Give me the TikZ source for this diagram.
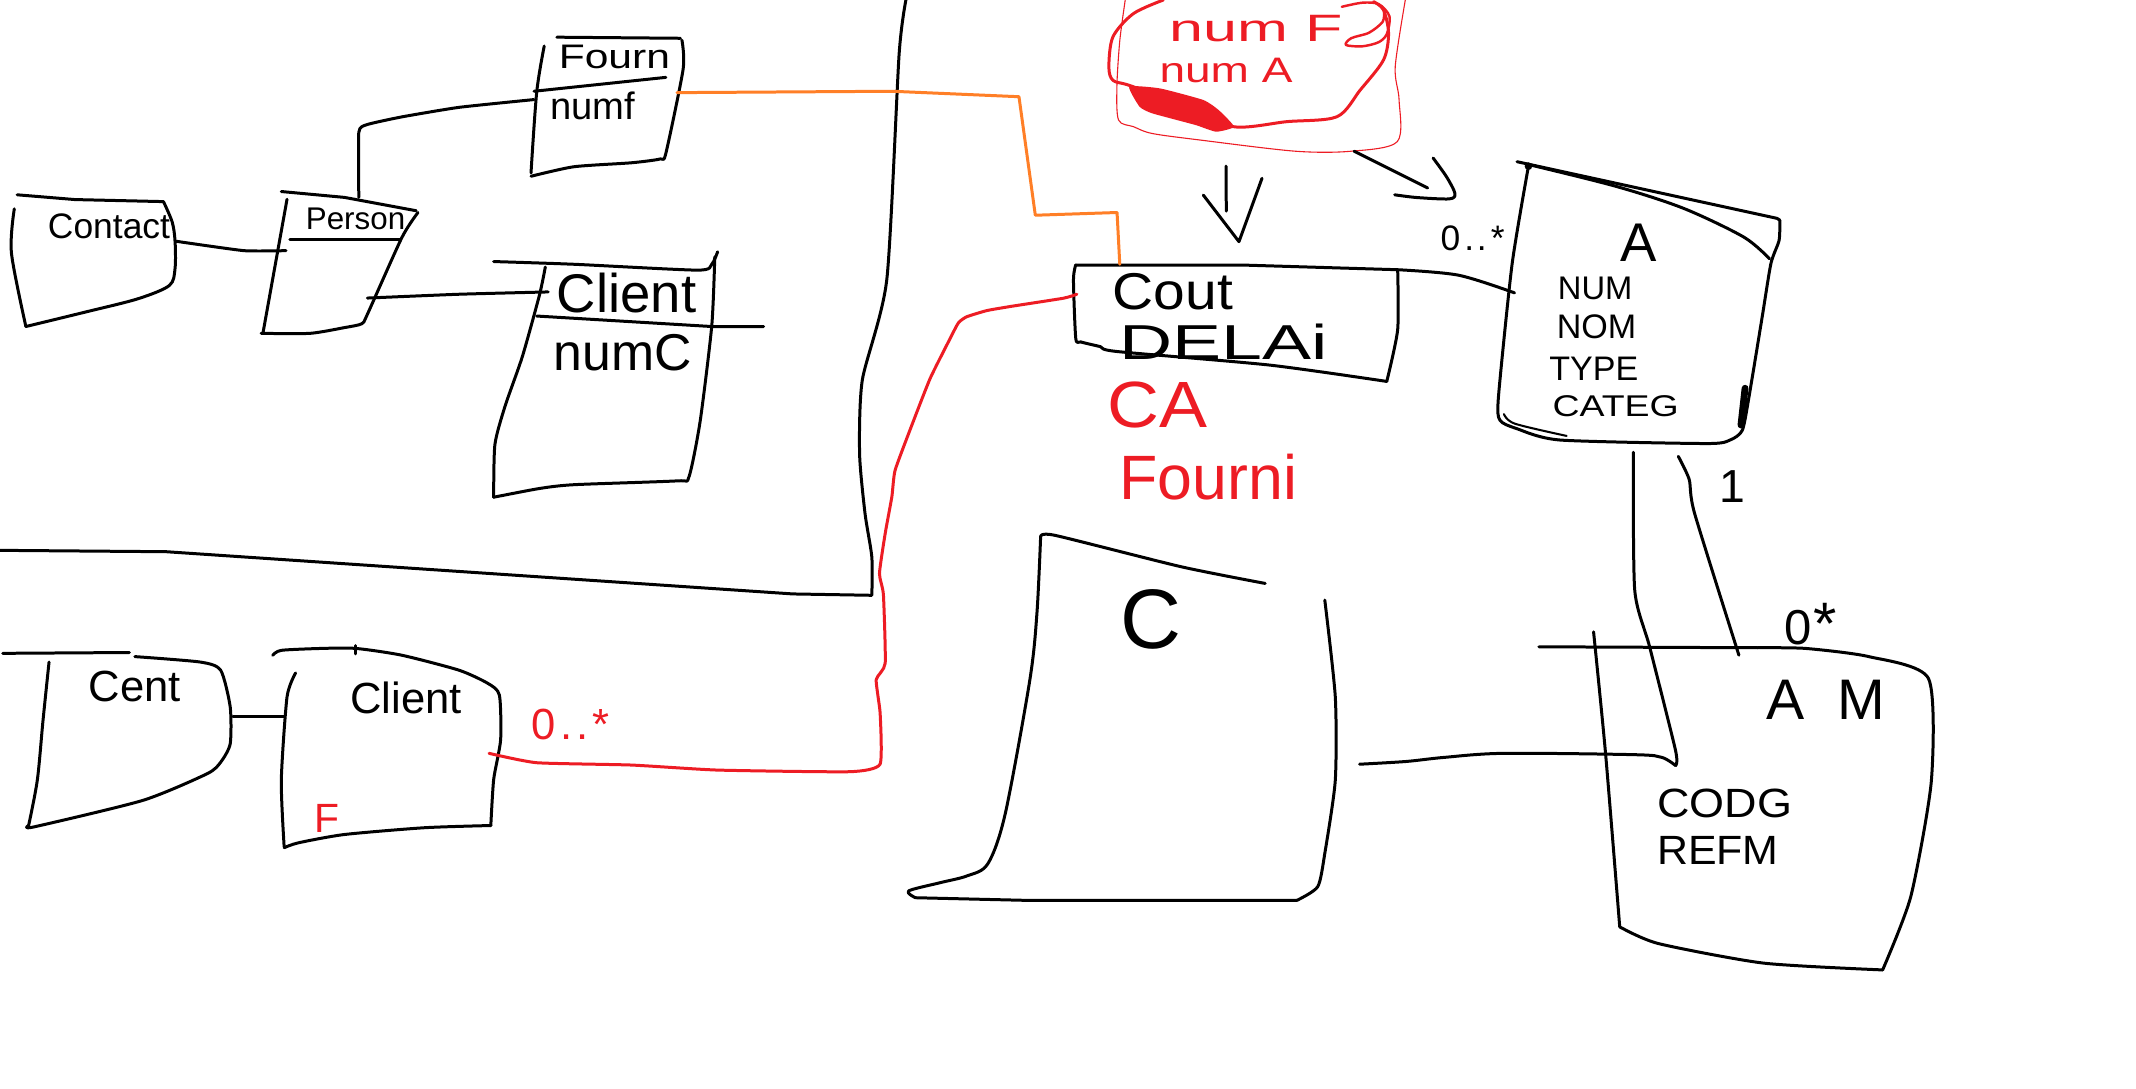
\documentclass[tikz,border=0pt]{standalone}
\usepackage{fontspec}
\setmainfont{Liberation Sans}
\definecolor{pred}{HTML}{ED1C24}
\definecolor{porange}{HTML}{FF7F27}
\begin{document}
\begin{tikzpicture}[x=1pt,y=-1pt,
  ink/.style={line width=2.2pt, line cap=round, line join=round},
  redink/.style={ink, draw=pred},
  thinred/.style={line width=0.8pt, draw=pred, line cap=round, line join=round},
  orangeink/.style={ink, draw=porange},
  lbl/.style={inner sep=0pt, font=\fontsize{#1}{#1}\selectfont},
  rlbl/.style={lbl=#1, text=pred}]
\useasboundingbox[fill=white] (0,0) rectangle (1568,799);

% ---------- big frame ----------
\draw[ink] plot[smooth,tension=0.4] coordinates {(665,0) (660,40) (651,205) (633,279) (631,333) (635,377) (640,409) (640,437)} -- (582,436) -- (122,405) -- (0,404);

% ---------- Contact ----------
\draw[ink] (12.6,143) -- (55,146.5) -- (120,148);
\draw[ink] plot[smooth] coordinates {(120,148) (126.4,163) (128.5,177) (128.5,197) (124.3,209.6) (101,219.4) (63,229) (19,239.7)};
\draw[ink] plot[smooth] coordinates {(10.5,153.3) (8.4,185.7) (19,239.7)};
\node[lbl=26] (contact) at (80,166) {Contact};
\coordinate (contactR) at (128.5,177);

% ---------- Person ----------
\draw[ink] (206.5,140.6) -- (252.8,144.9) -- (305.5,154.7);
\draw[ink] plot[smooth,tension=0.4] coordinates {(306.8,156) (295,174.4) (269.7,230.7) (265.5,237.7) (252.8,240.5) (227.6,244.7) (191.7,244.7)};
\draw[ink] (210.7,146.3) -- (193,244.7);
\draw[ink] (212.8,176) -- (293.7,176);
\node[lbl=23] (person) at (261,161) {Person};
\coordinate (personL) at (210,184);
\coordinate (personT) at (263.4,144.9);
\coordinate (personR) at (269.7,218.8);

% ---------- Fourn ----------
\draw[ink] (408.8,27.3) -- (499.4,28.1);
\draw[ink] plot[smooth,tension=0.4] coordinates {(500.6,29.5) (501.5,50.6) (488.8,112.5) (484.6,116.7) (463.5,119.5) (421.4,122.4) (389.8,129.4)};
\draw[ink] plot[smooth] coordinates {(399.5,33.8) (394,67.5) (389.8,127)};
\draw[ink] (392,67) -- (488.8,56.8);
\node[lbl=25] (fourn) at (451,42) {\scalebox{1.25}[1]{Fourn}};
\node[lbl=28] (numf) at (435,78) {numf};
\coordinate (fournL) at (392,73.1);
\coordinate (fournR) at (497,68);

% ---------- Client (upper) ----------
\draw[ink] plot[smooth,tension=0.4] coordinates {(362.4,192) (421.4,194) (512,198.3) (522.5,194) (526.8,184.8)};
\draw[ink] plot[smooth,tension=0.4] coordinates {(524.7,188.5) (522.5,239) (514,309) (505.7,350.2) (497,353) (421.4,355.8) (396,358.6) (362.4,365)};
\draw[ink] plot[smooth,tension=0.4] coordinates {(400.3,196) (396,216.6) (383.5,261.6) (370.8,298) (363.3,326.3) (362.4,365)};
\draw[ink] (394,232) -- (522.5,239.7) -- (560.5,239.7);
\node[lbl=40] (clientA) at (460,215) {Client};
\node[lbl=38] (numC) at (457,259) {numC};
\coordinate (clientAL) at (402.4,214.3);

% ---------- connectors top-left ----------
\draw[ink] plot[smooth,tension=0.3] coordinates {(contactR) (179,184) (personL)};
\draw[ink] plot[smooth,tension=0.3] coordinates {(personT) (263.4,97) (269.7,91.4) (295,85.8) (337,78.8) (fournL)};
\draw[ink] plot[smooth,tension=0.3] coordinates {(personR) (337,216) (clientAL)};

% ---------- Cent ----------
\draw[ink] (2,479.6) -- (95,479);
\draw[ink] plot[smooth,tension=0.4] coordinates {(99,482) (147,486) (162,492) (169,519) (169,546) (162,559.5) (152,568) (105,587.5) (25,607) (21,606)};
\draw[ink] plot[smooth] coordinates {(36,486) (31.6,528.6) (27.4,572.6) (21,606)};
\node[lbl=32] (cent) at (99,504) {Cent};
\coordinate (centR) at (171,526);

% ---------- Client (lower) ----------
\draw[ink] plot[smooth,tension=0.4] coordinates {(200.2,481) (206.5,477.4) (236,476) (261.3,476) (295,481) (337,492) (358.2,501.7) (366.6,510.3) (367.5,543) (362.4,572.2) (360.3,606)};
\draw[ink] plot[smooth,tension=0.4] coordinates {(360.3,606) (311.8,607.6) (252.8,612.6) (219,618.7) (208.6,622.3)};
\draw[ink] plot[smooth,tension=0.4] coordinates {(217,494) (210.7,511.6) (206.5,572.8) (208.6,621.8)};
\draw[ink] (261.3,474) -- (261.3,480);
\node[lbl=32] (clientB) at (298,512) {Client};
\node[rlbl=30] (fB) at (240,601) {F};
\node[rlbl=32] (mult1) at (419,532) {0\hspace{3pt}.\hspace{3pt}.\hspace{3pt}*};
\coordinate (clientBL) at (209,526);
\coordinate (clientBR) at (359,553);
\draw[ink] (centR) -- (clientBL);

% ---------- red blob (keys) ----------
\fill[pred] plot[smooth cycle,tension=0.3] coordinates {(829,63.6) (851.5,64.9) (883.3,73.4) (894.6,80.8) (905.8,93) (892.7,96.7) (877.7,91.8) (845.8,83.2) (836.5,78.3)};
\draw[redink] plot[smooth,tension=0.5] coordinates {(854,0) (832,10) (817,27) (814,49) (817,59) (830,63) (870,78) (905.5,93) (944.7,89.3) (981.4,85.7) (998.5,66.1) (1015.6,44) (1019.3,24.5) (1015.6,7.3) (1008.3,1.2)};
\draw[thinred] plot[smooth,tension=0.5] coordinates {(826,0) (822,30) (819.9,63.6) (821.1,88.1) (832.1,93) (845.8,98) (881,102.8) (950.8,111) (992,111) (1025.7,104) (1027,73) (1024.2,49) (1031.6,0)};
\draw[redink,line width=1.8pt] plot[smooth,tension=0.5] coordinates {(985,5) (1000,2) (1012,3) (1020,12) (1018,25) (1012,31) (1000,34) (988,33) (992,28) (1005,24) (1015,16) (1016,8)};
\node[rlbl=28] (numF) at (922,21) {\scalebox{1.6}[1]{num F}};
\node[rlbl=26] (numA) at (900,52) {\scalebox{1.3}[1]{num A}};
\coordinate (blobB) at (900,122);
\coordinate (blobR) at (994,111);

% ---------- arrows under blob ----------
\draw[ink] (blobB) -- (900.2,155);
\draw[ink] (883.3,143.2) -- (909.5,177.4) -- (926.4,130.9);
\draw[ink] (blobR) -- (1048,138);
\draw[ink] plot[smooth,tension=0.5] coordinates {(1052,116) (1062,130) (1068,142) (1064,146) (1040,145) (1023.8,143)};
\node[lbl=26] (mult2) at (1081,175) {0\hspace{3pt}.\hspace{2pt}.\hspace{3pt}*};

% ---------- Cout / Delai ----------
\draw[ink] (789.6,194.6) -- (913,194.6) -- (1026,198);
\draw[ink] plot[smooth,tension=0.4] coordinates {(789.6,194.6) (788,205.6) (789.7,248.4) (793.4,251) (807.8,254.5) (819.6,258) (932,268) (1018,280)};
\draw[ink] plot[smooth,tension=0.4] coordinates {(1026,198) (1026,242) (1018,280)};
\node[lbl=38] (cout) at (861,214) {\scalebox{1.1}[1]{Cout}};
\node[lbl=36] (delai) at (898,251) {\scalebox{1.5}[1]{DELAi}};
\node[rlbl=48] (ca) at (850,297) {\scalebox{1.1}[1]{CA}};
\node[rlbl=46] (fourni) at (887,350) {Fourni};
\coordinate (coutL) at (790.5,216);
\coordinate (coutT) at (822,194);
\coordinate (coutR) at (1026,198);

% ---------- A ----------
\draw[ink] (1113.6,118.7) -- (1304.5,160.3) -- (1306.5,161.6);
\draw[ink] plot[smooth,tension=0.5] coordinates {(1123,121) (1187,137) (1236,153) (1280,174) (1299,190)};
\draw[ink] plot[smooth,tension=0.4] coordinates {(1306.5,161.6) (1306,176.4) (1300,193.4) (1293.6,232.5) (1283.9,291.3) (1279,315.8) (1270,323) (1253,325.6) (1145,323) (1113,314.5) (1101,308.4) (1100,291) (1110,193.8) (1122,122)};
\draw[ink,line width=1.5pt] plot[smooth] coordinates {(1104,304) (1112,311) (1150,320)};
\draw[line width=5pt,line cap=round] (1281,285) -- (1278,312);
\fill (1122,122) circle (2.8);
\node[lbl=40] (aTitle) at (1203,178) {A};
\node[lbl=24] (num) at (1171,212) {NUM};
\node[lbl=25] (nom) at (1172,240) {NOM};
\node[lbl=25] (type) at (1170,271) {TYPE};
\node[lbl=22] (categ) at (1186,298) {\scalebox{1.25}[1]{CATEG}};
\coordinate (aL) at (1111.8,215);
\coordinate (aB1) at (1199,332);
\coordinate (aB2) at (1232,335);

% ---------- C ----------
\draw[ink] plot[smooth,tension=0.4] coordinates {(763.9,394) (774.5,393) (866.9,416) (928.8,428.3)};
\draw[ink] plot[smooth,tension=0.4] coordinates {(972.5,440.5) (980.2,511.5) (980.2,572.8) (972.5,626.5) (967.3,650.9) (951.9,661)};
\draw[ink] (951.9,661) -- (756,661) -- (672,659);
\draw[ink] plot[smooth,tension=0.5] coordinates {(672,659) (667,654) (690,648) (709.8,643) (725.2,634) (738,597) (756,499) (761.2,450) (763.9,394)};
\node[lbl=62] (cTitle) at (845,455) {C};
\coordinate (cR) at (998,561);

% ---------- AM ----------
\draw[ink] (1129.7,474.8) -- (1290,475.5);
\draw[ink] plot[smooth,tension=0.4] coordinates {(1290,475.5) (1325.5,476) (1371.8,482) (1415.6,498) (1417.8,572.8) (1402.7,658) (1382,712)};
\draw[ink] plot[smooth,tension=0.4] coordinates {(1382,712) (1294.6,707) (1217.2,692.6) (1189,680.4)};
\draw[ink] plot[smooth,tension=0.4] coordinates {(1169.8,463.8) (1178.6,553.1) (1189,680.4)};
\node[lbl=42] (amTitle) at (1340,514) {A\hspace{24pt}M};
\node[lbl=30] (codg) at (1266,590) {\scalebox{1.1}[1]{CODG}};
\node[lbl=30] (refm) at (1261,624) {\scalebox{1.05}[1]{REFM}};
\coordinate (amT) at (1276.5,481);

% ---------- connectors ----------
\draw[orangeink] (fournR) -- (655,67) -- (748,71) -- (760,158) -- (820,156) -- (coutT);
\draw[redink] plot[smooth,tension=0.3] coordinates {(clientBR) (394,559.9) (463.5,561.6) (526.8,565.3) (623.7,566.5) (646,561) (646.1,523.7) (643.2,499) (649.8,486.9) (648.5,436.6) (645.6,420.9) (649.8,391.6) (654.7,364.6) (657.1,345.1) (669.4,312) (682.8,277.8) (697.5,248.4) (703.6,236.9) (709.7,232.5) (724.4,228) (741.6,225) (780.7,218.9) (coutL)};
\draw[ink] plot[smooth,tension=0.5] coordinates {(coutR) (1070.6,202) (aL)};
\draw[ink] plot[smooth,tension=0.4] coordinates {(aB1) (1200,433) (1211,475) (1230,551) (1230,562)};
\draw[ink] plot[smooth,tension=0.5] coordinates {(1230,562) (1220,556) (1200,554) (1104,553) (1060,556) (1032,559) (cR)};
\draw[ink] plot[smooth,tension=0.4] coordinates {(aB2) (1240,352) (1244,377) (amT)};
\node[lbl=34] (one) at (1272,357) {1};
\node[lbl=36] (mult3) at (1329,458) {0\hspace{1pt}{\fontsize{44}{44}\selectfont *}};
\end{tikzpicture}
\end{document}
